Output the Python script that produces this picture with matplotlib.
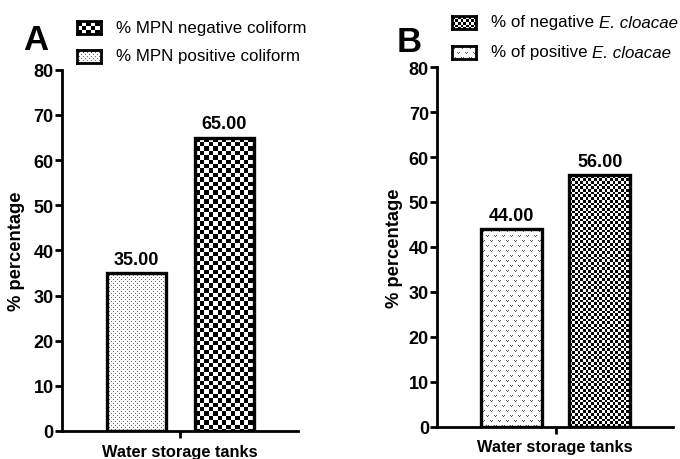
import numpy as np
import matplotlib
matplotlib.use('Agg')
import matplotlib.pyplot as plt

plt.rcParams['font.family'] = ['Liberation Sans', 'DejaVu Sans']

# data
coliform_labels = ['% MPN positive coliform', '% MPN negative coliform']
coliform_values = [35.00, 65.00]
cloacae_labels = [('% of positive ', 'E. cloacae'), ('% of negative ', 'E. cloacae')]
cloacae_values = [44.00, 56.00]
y_ticks = [0, 10, 20, 30, 40, 50, 60, 70, 80]
x_label = 'Water storage tanks'
y_label = '% percentage'


def pattern(kind, h, w):
    # fill patterns drawn at screen-pixel resolution
    yy, xx = np.mgrid[0:h, 0:w]
    img = np.ones((h, w, 3))
    if kind == 'check_big':
        mask = ((yy // 4.4).astype(int) + (xx // 4.4).astype(int)) % 2 == 0
        img[mask] = 0.0
    elif kind == 'check_small':
        mask = ((yy // 2.7).astype(int) + (xx // 2.7).astype(int)) % 2 == 0
        img[mask] = 0.0
    elif kind == 'dots':
        mask = ((yy % 4 == 0) & (xx % 4 == 0)) | ((yy % 4 == 2) & (xx % 4 == 2))
        img[mask] = 0.45
    elif kind == 'v':
        ry = yy // 5
        dy = yy % 5
        cx = (xx + 4 * (ry % 2)) % 8
        mask = ((dy == 1) & ((cx == 1) | (cx == 3))) | ((dy == 2) & (cx == 2))
        img[mask] = 0.35
    return img


def draw_bar(ax, x, v, width, kind):
    bar = ax.bar(x, v, width, facecolor='none', edgecolor='black', linewidth=2.4, zorder=3)[0]
    bb = bar.get_window_extent()
    h, w = int(round(bb.height)), int(round(bb.width))
    ax.imshow(pattern(kind, h, w), extent=(x - width / 2, x + width / 2, 0, v),
              aspect='auto', interpolation='nearest', zorder=2)
    ax.text(x, v + 1.2, f'{v:.2f}', ha='center', va='bottom', fontsize=13, fontweight='bold')


def legend_item(fig, x, y, kind, text, italic=None):
    # x, y: left / vertical centre of handle in pixels from top-left
    W, H = 680, 460
    lax = fig.add_axes([x / W, 1 - (y + 6.5) / H, 24 / W, 13 / H])
    lax.imshow(pattern(kind, 13, 24), aspect='auto', interpolation='nearest')
    lax.set_xticks([])
    lax.set_yticks([])
    for s in lax.spines.values():
        s.set_linewidth(2)
    t = fig.text((x + 39) / W, 1 - y / H, text, ha='left', va='center', fontsize=12.2)
    if italic:
        r = fig.canvas.get_renderer()
        bb = t.get_window_extent(r)
        fig.text(bb.x1 / W, 1 - y / H, italic, ha='left', va='center', fontsize=12.2, style='italic')


def style_axes(ax, ylab_x):
    ax.set_xlim(-0.847, 1.835)
    ax.set_ylim(0, 80)
    ax.set_yticks(y_ticks)
    ax.set_xticks([0.5])
    ax.set_xticklabels([''])
    for s in ['top', 'right']:
        ax.spines[s].set_visible(False)
    for s in ['left', 'bottom']:
        ax.spines[s].set_linewidth(2)
    ax.tick_params(width=2, length=5, labelsize=13, pad=1)
    for lab in ax.get_yticklabels():
        lab.set_fontweight('bold')
    ax.set_ylabel(y_label, fontsize=13.2, fontweight='bold')
    ax.yaxis.set_label_coords(ylab_x, 0.5)
    ax.set_xlabel(x_label, fontsize=11.8, fontweight='bold')
    ax.xaxis.set_label_coords(0.5, -0.035)


fig = plt.figure(figsize=(6.8, 4.6), dpi=100)
axA = fig.add_axes([0.091, 0.061, 0.347, 0.785])
axB = fig.add_axes([0.643, 0.070, 0.347, 0.782])

style_axes(axA, -0.155)
style_axes(axB, -0.145)

width_a = 0.67
width_b = 0.69
draw_bar(axA, 0, coliform_values[0], width_a, 'dots')
draw_bar(axA, 1, coliform_values[1], width_a, 'check_big')
draw_bar(axB, 0, cloacae_values[0], width_b, 'v')
draw_bar(axB, 1, cloacae_values[1], width_b, 'check_small')

for ax in (axA, axB):
    ax.set_xlim(-0.847, 1.835)
    ax.set_ylim(0, 80)

fig.text(36 / 680, 1 - 41 / 460, 'A', fontsize=25, fontweight='bold', ha='center', va='center')
fig.text(409 / 680, 1 - 42 / 460, 'B', fontsize=25, fontweight='bold', ha='center', va='center')

legend_item(fig, 77, 28, 'check_big', coliform_labels[1])
legend_item(fig, 77, 57, 'dots', coliform_labels[0])
legend_item(fig, 452, 23, 'check_small', cloacae_labels[1][0], cloacae_labels[1][1])
legend_item(fig, 452, 53, 'v', cloacae_labels[0][0], cloacae_labels[0][1])

fig.savefig('out.png', dpi=100)
